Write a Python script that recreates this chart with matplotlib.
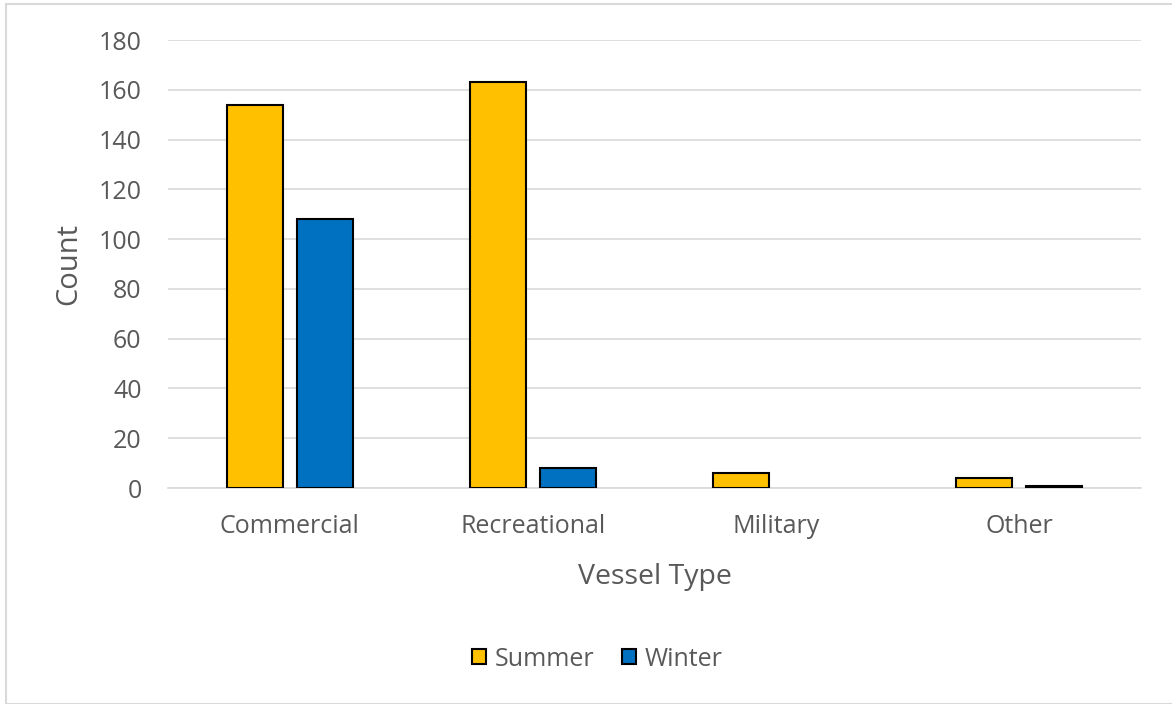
import numpy as np
import matplotlib.pyplot as plt
from matplotlib.patches import Rectangle

# vessel counts by season
categories = ['Commercial', 'Recreational', 'Military', 'Other']
summer = [154, 163, 6, 4]
winter = [108, 8, 0, 1]

plt.rcParams['font.family'] = ['Open Sans', 'DejaVu Sans']
text_col = '#595959'

fig = plt.figure(figsize=(11.72, 7.04), dpi=100)
ax = fig.add_axes([168/1172, 1-488/704, (1141-168)/1172, 448/704])

# light grey outer frame
fig.patches.append(Rectangle((5.5/1172, 0), 2, 1 - 3.5/704, transform=fig.transFigure,
                             fill=False, edgecolor='#d9d9d9', lw=1.5))

x = np.arange(len(categories))
w = 0.23
gap = 0.058
ax.bar(x - (w+gap)/2, summer, w, color='#ffc000', edgecolor='black',
       lw=[1.5 if v > 0 else 0 for v in summer], label='Summer', zorder=3)
ax.bar(x + (w+gap)/2, winter, w, color='#0070c0', edgecolor='black',
       lw=[1.5 if v > 0 else 0 for v in winter], label='Winter', zorder=3)

ax.set_xlim(-0.5, len(categories) - 0.5)
ax.set_ylim(0, 180)
ax.set_yticks(range(0, 181, 20))
ax.set_xticks(x)
ax.set_xticklabels(categories)
ax.grid(axis='y', color='#d9d9d9', lw=1.2, zorder=0)
for s in ['top', 'right', 'left']:
    ax.spines[s].set_visible(False)
ax.spines['bottom'].set_color('#d9d9d9')
ax.spines['bottom'].set_linewidth(1.2)
ax.tick_params(length=0, labelsize=18, colors=text_col)
ax.tick_params(axis='x', pad=19)
ax.tick_params(axis='y', pad=19)

ax.set_ylabel('Count', fontsize=21, color=text_col, labelpad=11)
ax.set_xlabel('Vessel Type', fontsize=20.5, color=text_col, labelpad=17)

ax.legend(loc='center', bbox_to_anchor=(597/1172, 1 - 659/704), bbox_transform=fig.transFigure,
          ncol=2, frameon=False, fontsize=18, labelcolor=text_col,
          handlelength=0.56, handleheight=0.56, handletextpad=0.36, columnspacing=1.1)

fig.savefig('out.png', dpi=100)
